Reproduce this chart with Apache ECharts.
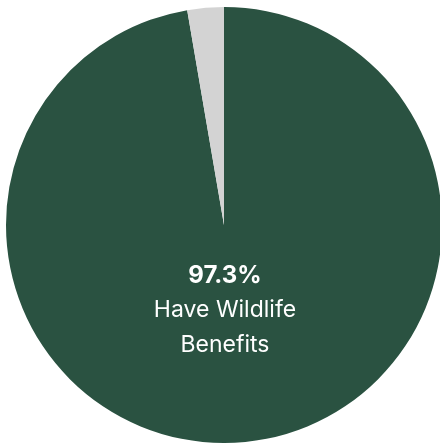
<!DOCTYPE html>
<html><head><meta charset="utf-8">
<script src="https://cdn.jsdelivr.net/npm/echarts@6/dist/echarts.min.js"></script>
<style>html,body{margin:0;padding:0;background:#fff}#c{width:440px;height:445px}</style>
</head><body><div id="c"></div>
<script>
const categories = ["Have Wildlife Benefits", "No Wildlife Benefits"];
const values = [97.3, 2.7];
const colors = ["#2a5241", "#d3d3d3"];
const chart = echarts.init(document.getElementById('c'), null, {renderer: 'canvas'});
chart.setOption({
  animation: false,
  series: [{
    type: 'pie',
    center: [224, 225],
    radius: [0, 218],
    startAngle: 90,
    clockwise: true,
    label: {show: false},
    labelLine: {show: false},
    emphasis: {disabled: true},
    data: categories.map((n, i) => ({name: n, value: values[i], itemStyle: {color: colors[i]}}))
  }],
  graphic: [{
    type: 'text',
    z: 100,
    x: 225,
    y: 258,
    style: {
      text: '{b|' + values[0] + '%}\n{n|Have Wildlife}\n{n|Benefits}',
      align: 'center',
      verticalAlign: 'top',
      fill: '#fff',
      rich: {
        b: {fontFamily: 'Inter', fontSize: 24, fontWeight: 'bold', fill: '#fff', lineHeight: 35, align: 'center'},
        n: {fontFamily: 'Inter', fontSize: 23, fill: '#fff', lineHeight: 35, align: 'center'}
      }
    }
  }]
});
</script></body></html>
